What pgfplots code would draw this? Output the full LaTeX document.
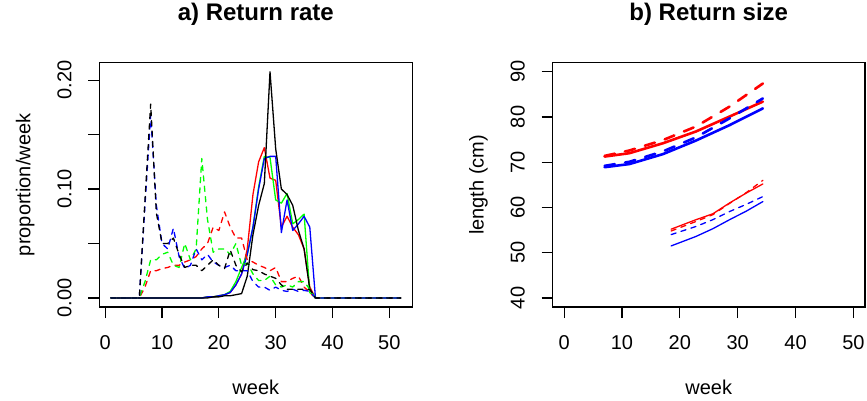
\documentclass[border=0pt]{standalone}
\usepackage{fontspec}
\setmainfont{Liberation Sans}
\usepackage{pgfplots}
\usepackage{pgfplotstable}
\pgfplotsset{compat=1.18}

\definecolor{rred}{RGB}{255,0,0}
\definecolor{rgreen}{RGB}{0,255,0}
\definecolor{rblue}{RGB}{0,0,255}

% weekly return proportions: solid (rS..kS) and dashed (rD..kD) series
\pgfplotstableread{
week rS gS bS kS rD gD bD kD
1 0 0 0 0 0 0 0 0
2 0 0 0 0 0 0 0 0
3 0 0 0 0 0 0 0 0
4 0 0 0 0 0 0 0 0
5 0 0 0 0 0 0 0 0
6 0 0 0 0 0 0 0 0
7 0 0 0 0 0.010 0.015 0.085 0.090
8 0 0 0 0 0.025 0.035 0.168 0.178
9 0 0 0 0 0.025 0.035 0.085 0.078
10 0 0 0 0 0.027 0.040 0.050 0.050
11 0 0 0 0 0.028 0.042 0.045 0.050
12 0 0 0 0 0.030 0.030 0.064 0.055
13 0 0 0 0 0.030 0.028 0.038 0.040
14 0 0 0 0 0.033 0.050 0.027 0.028
15 0 0 0 0 0.035 0.035 0.030 0.030
16 0 0 0 0 0.038 0.045 0.045 0.030
17 0 0 0 0 0.045 0.128 0.035 0.025
18 0.001 0.001 0.001 0 0.050 0.072 0.040 0.030
19 0.001 0.001 0.001 0.001 0.065 0.042 0.033 0.035
20 0.002 0.002 0.002 0.001 0.062 0.045 0.030 0.030
21 0.003 0.003 0.003 0.002 0.079 0.045 0.028 0.027
22 0.005 0.006 0.005 0.002 0.065 0.040 0.030 0.044
23 0.012 0.015 0.012 0.003 0.055 0.050 0.025 0.030
24 0.022 0.028 0.022 0.004 0.055 0.030 0.025 0.024
25 0.045 0.040 0.040 0.020 0.035 0.032 0.025 0.032
26 0.095 0.065 0.065 0.058 0.033 0.022 0.015 0.026
27 0.125 0.102 0.100 0.085 0.030 0.016 0.010 0.025
28 0.138 0.130 0.128 0.105 0.028 0.016 0.010 0.022
29 0.110 0.129 0.130 0.2077 0.025 0.020 0.007 0.020
30 0.108 0.090 0.130 0.137 0.028 0.012 0.010 0.018
31 0.065 0.087 0.060 0.100 0.015 0.010 0.007 0.012
32 0.075 0.096 0.090 0.095 0.015 0.012 0.006 0.008
33 0.065 0.068 0.062 0.085 0.018 0.010 0.008 0.008
34 0.058 0.072 0.068 0.062 0.020 0.015 0.006 0.008
35 0.045 0.077 0.075 0.045 0.010 0.015 0.007 0.008
36 0.010 0.005 0.065 0.008 0.005 0.008 0.006 0.008
37 0 0 0 0 0 0 0 0
38 0 0 0 0 0 0 0 0
39 0 0 0 0 0 0 0 0
40 0 0 0 0 0 0 0 0
41 0 0 0 0 0 0 0 0
42 0 0 0 0 0 0 0 0
43 0 0 0 0 0 0 0 0
44 0 0 0 0 0 0 0 0
45 0 0 0 0 0 0 0 0
46 0 0 0 0 0 0 0 0
47 0 0 0 0 0 0 0 0
48 0 0 0 0 0 0 0 0
49 0 0 0 0 0 0 0 0
50 0 0 0 0 0 0 0 0
51 0 0 0 0 0 0 0 0
52 0 0 0 0 0 0 0 0
}\ratetable

\pgfplotsset{
  rpanel/.style={
    scale only axis,
    width=313bp, height=244.3bp,
    anchor=south west,
    axis line style={line width=1.1bp},
    every tick/.style={line width=1.1bp, black},
    tick align=outside,
    major tick length=11bp,
    xtick pos=bottom, ytick pos=left,
    every tick label/.append style={font=\fontsize{20bp}{24bp}\selectfont, inner sep=0pt},
    xticklabel style={anchor=north, yshift=-17bp},
    yticklabel style={xshift=-16.6bp, rotate=90, anchor=south},
    label style={font=\fontsize{20bp}{24bp}\selectfont, inner sep=0pt},
    xlabel style={at={([yshift=-87bp]axis description cs:0.5,0)}, anchor=base},
    ylabel style={at={([xshift=-69bp]axis description cs:0,0.5)}, anchor=base, rotate=0},
    title style={at={([yshift=36.7bp]axis description cs:0.5,1)}, anchor=base,
                 inner sep=0pt, font=\fontsize{24bp}{29bp}\selectfont\bfseries},
    xtick={0,10,20,30,40,50},
    xticklabels={0,10,20,30,40,50},
    xlabel={week},
  },
  sline/.style={line width=1.3bp, line join=round, line cap=round},
  dline/.style={line width=1.3bp, line join=round, line cap=round, dash pattern=on 5.2bp off 5.2bp},
  thick solid/.style={line width=2.6bp, line join=round, line cap=round},
  thick dashed/.style={line width=2.6bp, line join=round, line cap=round, dash pattern=on 10.4bp off 10.4bp},
  thin solid/.style={line width=1.3bp, line join=round, line cap=round},
  thin dashed/.style={line width=1.3bp, line join=round, line cap=round, dash pattern=on 5.2bp off 5.2bp},
}

\begin{document}
\begin{tikzpicture}
\useasboundingbox (0bp,0bp) rectangle (867bp,401bp);

% a) weekly return rate
\begin{axis}[rpanel,
  at={(99.3bp,94bp)},
  xmin=-1.04, xmax=54.04,
  ymin=-0.0083, ymax=0.216,
  ytick={0,0.05,0.10,0.15,0.20},
  yticklabels={0.00,,0.10,,0.20},
  ylabel={proportion/week},
  title={a) Return rate},
]
\addplot[sline, rred]   table[x=week, y=rS] {\ratetable};
\addplot[sline, rgreen] table[x=week, y=gS] {\ratetable};
\addplot[sline, rblue]  table[x=week, y=bS] {\ratetable};
\addplot[sline, black]  table[x=week, y=kS] {\ratetable};
\addplot[dline, rred]   table[x=week, y=rD] {\ratetable};
\addplot[dline, rgreen] table[x=week, y=gD] {\ratetable};
\addplot[dline, rblue]  table[x=week, y=bD] {\ratetable};
\addplot[dline, black]  table[x=week, y=kD] {\ratetable};
\end{axis}

% b) length at return
\begin{axis}[rpanel,
  at={(552.5bp,94bp)},
  width=312.5bp,
  xmin=-2, xmax=52,
  ymin=38, ymax=92,
  ytick={40,50,60,70,80,90},
  yticklabels={40,50,60,70,80,90},
  ylabel={length (cm)},
  title={b) Return size},
]
\addplot[thick solid, rred] coordinates {(7,71.25) (11.3,72.0) (17.1,74.2) (22.8,76.8) (28.6,80.1) (34.35,83.4)};
\addplot[thick dashed, rred] coordinates {(7,71.4) (11.3,72.6) (17.1,74.9) (22.8,77.9) (28.6,82.3) (34.35,87.4)};
\addplot[thick solid, rblue] coordinates {(7,68.9) (11.3,69.6) (17.1,71.8) (22.8,74.8) (28.6,78.2) (34.35,81.9)};
\addplot[thick dashed, rblue] coordinates {(7,69.2) (11.3,70.1) (17.1,72.4) (22.8,75.5) (28.6,79.7) (34.35,84.1)};
\addplot[thin solid, rred] coordinates {(18.5,55.2) (22.8,57.3) (25.7,58.6) (28.6,61.0) (31.5,63.2) (34.35,65.2)};
\addplot[thin dashed, rred] coordinates {(18.5,54.8) (22.8,56.9) (25.7,58.4) (28.6,60.9) (31.5,63.3) (34.35,66.0)};
\addplot[thin dashed, rblue] coordinates {(18.5,54.0) (22.8,55.8) (25.7,57.3) (28.6,59.1) (31.5,60.7) (34.35,62.4)};
\addplot[thin solid, rblue] coordinates {(18.5,51.5) (22.8,53.6) (25.7,55.3) (28.6,57.3) (31.5,59.2) (34.35,61.3)};
\end{axis}
\end{tikzpicture}
\end{document}
